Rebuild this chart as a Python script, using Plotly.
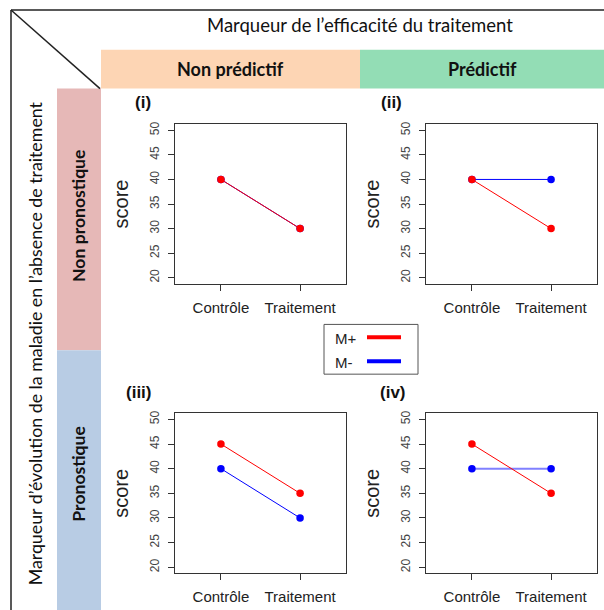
import plotly.graph_objects as go

# ---------------- data ----------------
groups = ["Contrôle", "Traitement"]
group_pos = [1, 2]
panel_labels = ["(i)", "(ii)", "(iii)", "(iv)"]
m_plus = [[40, 30], [40, 30], [45, 35], [45, 35]]
m_minus = [[40, 30], [40, 40], [40, 30], [40, 40]]
series_names = ["M+", "M-"]
series_colors = ["#FF0000", "#0000FF"]
y_ticks = [20, 25, 30, 35, 40, 45, 50]
col_headers = ["Non prédictif", "Prédictif"]
row_headers = ["Non pronostique", "Pronostique"]
top_title = "Marqueur de l’efficacité du traitement"
left_title = "Marqueur d’évolution de la maladie en l’absence de traitement"

W, H = 604, 610


def px(x):
    return x / W


def py(y):
    return 1 - y / H


# panel boxes in pixel coords (left, right, top, bottom)
boxes = [(175, 346, 122, 282), (426, 597, 122, 282),
         (175, 346, 412.5, 573), (426, 597, 412.5, 573)]
label_pos = [(143, 100), (391, 100), (139, 391), (393, 391)]

rfont = "Liberation Sans, Arial"
fig = go.Figure()
layout = {}
for i in range(4):
    ax = "" if i == 0 else str(i + 1)
    l, r, t, b = boxes[i]
    blue_w = 1.0
    blue_c = series_colors[1]
    if i == 3:
        blue_w = 2.0
        blue_c = "rgba(60,60,255,0.65)"
    fig.add_trace(go.Scatter(
        x=group_pos, y=m_minus[i], mode="lines+markers",
        line=dict(color=blue_c, width=blue_w),
        marker=dict(color=series_colors[1], size=7.5),
        name=series_names[1], showlegend=False,
        xaxis="x" + ax, yaxis="y" + ax))
    fig.add_trace(go.Scatter(
        x=group_pos, y=m_plus[i], mode="lines+markers",
        line=dict(color=series_colors[0], width=1),
        marker=dict(color=series_colors[0], size=7.5),
        name=series_names[0], showlegend=False,
        xaxis="x" + ax, yaxis="y" + ax))
    layout["xaxis" + ax] = dict(
        domain=[px(l), px(r)], anchor="y" + ax, range=[0.42, 2.58],
        tickvals=group_pos, ticktext=groups, ticks="outside", ticklen=6,
        tickcolor="#333", showline=True, mirror=True, linecolor="#333",
        linewidth=1, showgrid=False, zeroline=False, fixedrange=True,
        ticklabelstandoff=4,
        tickfont=dict(family=rfont, size=15, color="#222"))
    layout["yaxis" + ax] = dict(
        domain=[py(b), py(t)], anchor="x" + ax, range=[18.8, 51.2],
        tickvals=y_ticks, ticks="outside", ticklen=6, tickcolor="#333",
        tickangle=-90, showline=True, mirror=True, linecolor="#333",
        linewidth=1, showgrid=False, zeroline=False, fixedrange=True,
        ticklabelstandoff=4,
        tickfont=dict(family=rfont, size=12, color="#444"),
        title=dict(text="score", standoff=14,
                   font=dict(family=rfont, size=20, color="#222")))

shapes = []
annotations = []

# coloured header bands
shapes.append(dict(type="rect", xref="paper", yref="paper", x0=px(101), x1=px(360),
                   y0=py(86), y1=py(47), fillcolor="#FDD5B4", line=dict(width=0), layer="below"))
shapes.append(dict(type="rect", xref="paper", yref="paper", x0=px(360), x1=px(604),
                   y0=py(86), y1=py(47), fillcolor="#93DDB5", line=dict(width=0), layer="below"))
shapes.append(dict(type="rect", xref="paper", yref="paper", x0=px(57), x1=px(101),
                   y0=py(349), y1=py(86), fillcolor="#E6B8B7", line=dict(width=0), layer="below"))
shapes.append(dict(type="rect", xref="paper", yref="paper", x0=px(57), x1=px(101),
                   y0=py(610), y1=py(349), fillcolor="#B8CCE4", line=dict(width=0), layer="below"))
# frame lines
shapes.append(dict(type="line", xref="paper", yref="paper", x0=px(11), x1=px(604),
                   y0=py(7), y1=py(7), line=dict(color="#222", width=1.5)))
shapes.append(dict(type="line", xref="paper", yref="paper", x0=px(11), x1=px(11),
                   y0=py(7), y1=py(610), line=dict(color="#222", width=1.5)))
shapes.append(dict(type="line", xref="paper", yref="paper", x0=px(11), x1=px(100),
                   y0=py(7), y1=py(86), line=dict(color="#222", width=1.5)))

cal = "Lato, Open Sans, sans-serif"


def ann(text, x, y, size, family=cal, angle=0, xanchor="center", color="#111"):
    annotations.append(dict(text=text, x=px(x), y=py(y), xref="paper", yref="paper",
                            xanchor=xanchor, yanchor="middle", textangle=angle,
                            showarrow=False, font=dict(family=family, size=size, color=color)))


ann(top_title, 360, 22, 18.5)
ann("<b>%s</b>" % col_headers[0], 230, 66, 18)
ann("<b>%s</b>" % col_headers[1], 482, 66, 18)
ann(left_title, 35, 342, 17.8, angle=-90)
ann("<b>%s</b>" % row_headers[0], 79, 214, 17.6, angle=-90)
ann("<b>%s</b>" % row_headers[1], 79, 473, 17.6, angle=-90)
for i in range(4):
    ann("<b>%s</b>" % panel_labels[i], label_pos[i][0], label_pos[i][1], 17, family=rfont)

# legend box
shapes.append(dict(type="rect", xref="paper", yref="paper", x0=px(324), x1=px(418),
                   y0=py(373), y1=py(323), fillcolor="white", line=dict(color="#555", width=1)))
leg_y = [336, 360]
for k in range(2):
    ann(series_names[k], 333, leg_y[k] + 1, 15, family=rfont, xanchor="left", color="#222")
    shapes.append(dict(type="line", xref="paper", yref="paper", x0=px(367), x1=px(401),
                       y0=py(leg_y[k]), y1=py(leg_y[k]),
                       line=dict(color=series_colors[k], width=4)))

fig.update_layout(
    width=W, height=H, autosize=False,
    margin=dict(l=0, r=0, t=0, b=0),
    paper_bgcolor="white", plot_bgcolor="white",
    showlegend=False, shapes=shapes, annotations=annotations,
    **layout)

fig.write_html("out.html", config={"displayModeBar": False, "staticPlot": True},
               post_script="document.body.style.margin='0';document.body.style.overflow='hidden';")
